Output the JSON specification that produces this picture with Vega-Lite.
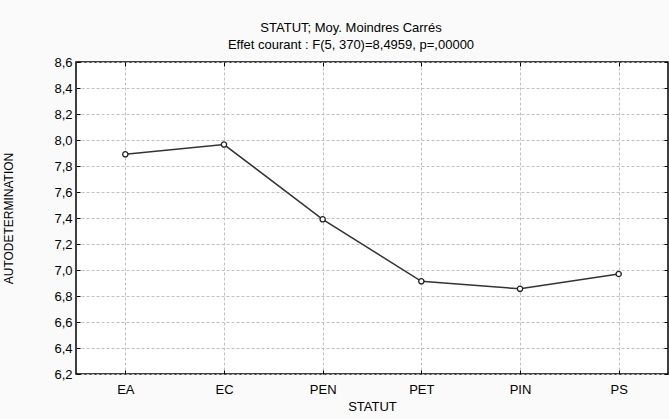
{
  "$schema": "https://vega.github.io/schema/vega-lite/v6.json",
  "width": 592,
  "height": 312,
  "autosize": "none",
  "padding": {"left": 76, "top": 62, "right": 1, "bottom": 45},
  "background": "#fafafa",
  "config": {
    "font": "Liberation Sans",
    "view": {"stroke": "#000000", "strokeWidth": 1.5, "fill": "#ffffff"},
    "axis": {"labelFont": "Liberation Sans", "titleFont": "Liberation Sans", "labelColor": "#000", "titleColor": "#000", "titleFontWeight": "normal", "labelFontSize": 13, "titleFontSize": 13}
  },
  "title": {
    "text": "STATUT; Moy. Moindres Carrés",
    "subtitle": "Effet courant : F(5, 370)=8,4959, p=,00000",
    "anchor": "middle",
    "dx": -21,
    "offset": 4,
    "fontSize": 13,
    "fontWeight": "normal",
    "subtitleFontSize": 13,
    "subtitlePadding": 4,
    "color": "#000",
    "subtitleColor": "#000",
    "font": "Liberation Sans",
    "subtitleFont": "Liberation Sans"
  },
  "data": {
    "values": [
      {"STATUT": "EA", "value": 7.89},
      {"STATUT": "EC", "value": 7.965},
      {"STATUT": "PEN", "value": 7.39},
      {"STATUT": "PET", "value": 6.913},
      {"STATUT": "PIN", "value": 6.855},
      {"STATUT": "PS", "value": 6.969}
    ]
  },
  "layer": [
    {
      "mark": {"type": "line", "color": "#333333", "strokeWidth": 1.5},
      "encoding": {
        "x": {"field": "STATUT", "type": "nominal", "sort": null, "scale": {"type": "point", "padding": 0.5},
          "axis": {"orient": "bottom", "labelAngle": 0, "title": "STATUT", "domain": false, "tickColor": "#000", "tickSize": -4, "labelPadding": 13, "titlePadding": 4,
            "grid": true, "gridColor": "#c0c0c0", "gridDash": [3, 2], "gridWidth": 1}},
        "y": {"field": "value", "type": "quantitative", "scale": {"domain": [6.2, 8.6], "nice": false, "zero": false},
          "axis": {"orient": "left", "title": "AUTODETERMINATION", "values": [6.2, 6.4, 6.6, 6.8, 7.0, 7.2, 7.4, 7.6, 7.8, 8.0, 8.2, 8.4, 8.6],
            "labelExpr": "replace(format(datum.value, '.1f'), '.', ',')", "domain": false, "tickColor": "#000", "tickSize": -4, "labelPadding": 8, "titlePadding": 38, "titleFontSize": 12,
            "grid": true, "gridColor": "#c0c0c0", "gridDash": [3, 2], "gridWidth": 1}}
      }
    },
    {
      "mark": {"type": "point", "shape": "circle", "filled": true, "fill": "#ffffff", "stroke": "#222222", "strokeWidth": 1.3, "size": 28, "opacity": 1},
      "encoding": {
        "x": {"field": "STATUT", "type": "nominal", "sort": null, "scale": {"type": "point", "padding": 0.5},
          "axis": {"orient": "top", "labels": false, "title": null, "domain": false, "tickColor": "#000", "tickSize": -4, "grid": false}},
        "y": {"field": "value", "type": "quantitative", "scale": {"domain": [6.2, 8.6], "nice": false, "zero": false},
          "axis": {"orient": "right", "labels": false, "title": null, "values": [6.2, 6.4, 6.6, 6.8, 7.0, 7.2, 7.4, 7.6, 7.8, 8.0, 8.2, 8.4, 8.6], "domain": false, "tickColor": "#000", "tickSize": -4, "grid": false}}
      }
    }
  ],
  "resolve": {"axis": {"x": "independent", "y": "independent"}}
}
